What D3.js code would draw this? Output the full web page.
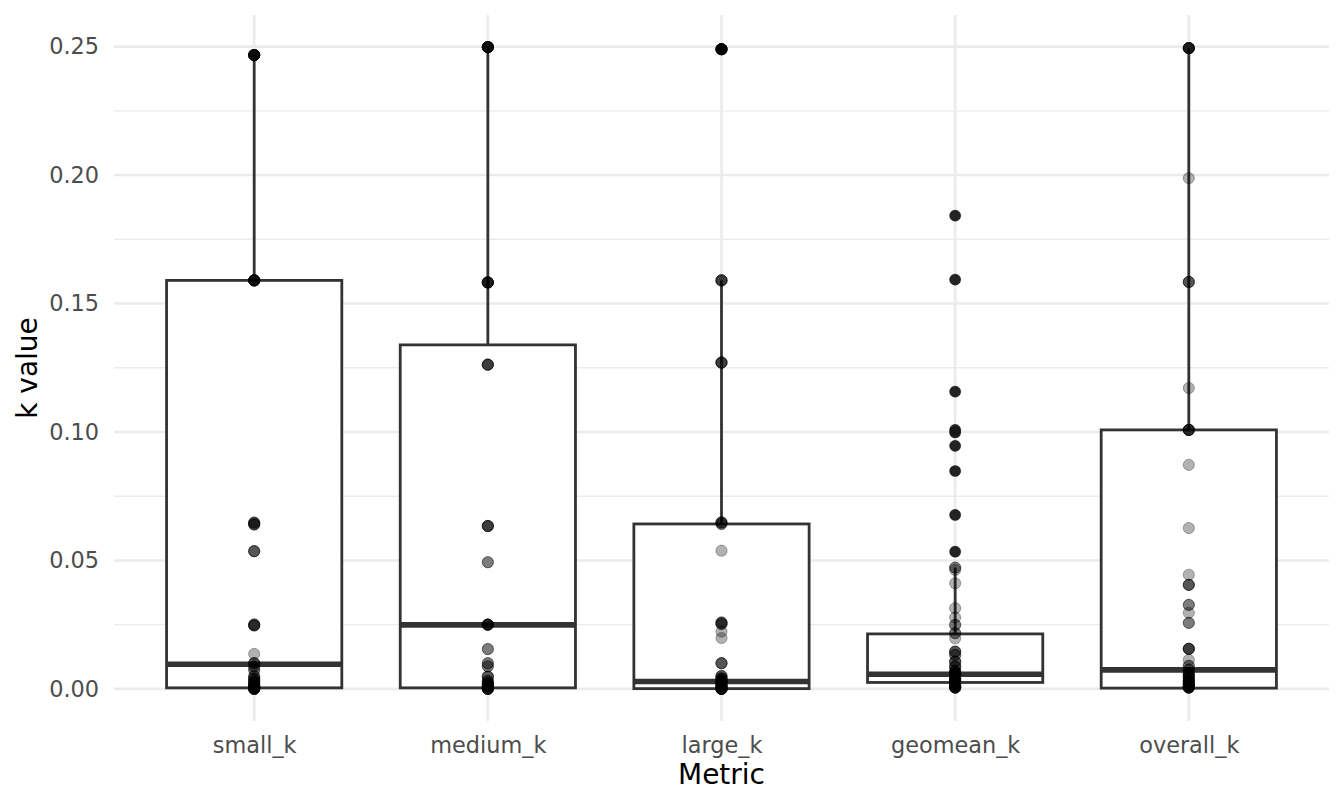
<!DOCTYPE html>
<html>
<head>
<meta charset="utf-8">
<script src="https://cdn.jsdelivr.net/npm/d3@7"></script>
<style>
  body { margin: 0; background: #fff; }
  svg text { font-family: "DejaVu Sans", sans-serif; }
</style>
</head>
<body>
<svg id="chart" width="1344" height="806"></svg>
<script>
// categories on the x axis
var categories = ["small_k", "medium_k", "large_k", "geomean_k", "overall_k"];

// box statistics
var boxLower    = [0.0004, 0.0004, 0.0001, 0.0025, 0.0003];
var boxMedian   = [0.0096, 0.0249, 0.0029, 0.0057, 0.0074];
var boxUpper    = [0.1590, 0.1339, 0.0642, 0.0214, 0.1008];
var whiskerLow  = [0.0000, 0.0000, 0.0000, 0.0000, 0.0000];
var whiskerHigh = [0.2467, 0.2498, 0.1590, 0.0472, 0.2494];

// observed points as [value, how many overlap there]
var smallK = [
  [0.2467, 8], [0.1590, 8], [0.0647, 3], [0.0640, 3], [0.0536, 3],
  [0.0251, 2], [0.0247, 3], [0.0136, 1], [0.0100, 3], [0.0088, 2],
  [0.0074, 2], [0.0050, 2], [0.0040, 3], [0.0030, 3], [0.0020, 4],
  [0.0010, 6], [0.0005, 6], [0.0000, 6]
];
var mediumK = [
  [0.2498, 8], [0.1582, 6], [0.1262, 4], [0.0634, 4], [0.0493, 2],
  [0.0250, 6], [0.0155, 2], [0.0100, 2], [0.0088, 2], [0.0048, 3],
  [0.0030, 3], [0.0020, 4], [0.0010, 5], [0.0000, 6]
];
var largeK = [
  [0.2490, 8], [0.1590, 4], [0.1270, 4], [0.0648, 3], [0.0642, 2],
  [0.0538, 1], [0.0258, 3], [0.0252, 2], [0.0223, 1], [0.0198, 1],
  [0.0100, 3], [0.0050, 3], [0.0040, 4], [0.0030, 5], [0.0020, 5],
  [0.0010, 6], [0.0000, 8]
];
var geomeanK = [
  [0.1842, 1], [0.1593, 1], [0.1157, 1], [0.1008, 1], [0.0998, 1],
  [0.0946, 1], [0.0848, 1], [0.0677, 1], [0.0534, 1], [0.0472, 2],
  [0.0463, 1], [0.0411, 1], [0.0314, 1], [0.0278, 1], [0.0249, 2],
  [0.0217, 2], [0.0197, 1], [0.0145, 3], [0.0132, 2], [0.0106, 3],
  [0.0087, 3], [0.0070, 3], [0.0060, 4], [0.0050, 4], [0.0040, 4],
  [0.0030, 5], [0.0020, 5], [0.0010, 5], [0.0005, 5]
];
var overallK = [
  [0.2494, 6], [0.1988, 1], [0.1584, 3], [0.1171, 1], [0.1008, 5],
  [0.0872, 1], [0.0626, 1], [0.0444, 1], [0.0405, 3], [0.0327, 2],
  [0.0296, 1], [0.0257, 2], [0.0156, 4], [0.0113, 1], [0.0090, 2],
  [0.0075, 2], [0.0060, 3], [0.0050, 3], [0.0040, 3], [0.0030, 4],
  [0.0020, 4], [0.0010, 5], [0.0005, 5]
];
var pointSets = [smallK, mediumK, largeK, geomeanK, overallK];

var yTicks = [0, 0.05, 0.10, 0.15, 0.20, 0.25];
var yMinor = [0.025, 0.075, 0.125, 0.175, 0.225];

var svg = d3.select("#chart");
var panelLeft = 114, panelRight = 1329, panelTop = 15, panelBottom = 721;
var dotR = 5.6;

var x = d3.scalePoint()
  .domain(categories)
  .range([panelLeft, panelRight])
  .padding(0.6);

var y = d3.scaleLinear()
  .domain([-0.0125, 0.2623])
  .range([panelBottom, panelTop]);

var boxW = x.step() * 0.75;

// grid
svg.append("g").selectAll("line")
  .data(yMinor).enter().append("line")
  .attr("x1", panelLeft).attr("x2", panelRight)
  .attr("y1", function(d) { return y(d); })
  .attr("y2", function(d) { return y(d); })
  .attr("stroke", "#ebebeb").attr("stroke-width", 1.4);

svg.append("g").selectAll("line")
  .data(yTicks).enter().append("line")
  .attr("x1", panelLeft).attr("x2", panelRight)
  .attr("y1", function(d) { return y(d); })
  .attr("y2", function(d) { return y(d); })
  .attr("stroke", "#ebebeb").attr("stroke-width", 2.6);

svg.append("g").selectAll("line")
  .data(categories).enter().append("line")
  .attr("x1", function(d) { return x(d); })
  .attr("x2", function(d) { return x(d); })
  .attr("y1", panelTop).attr("y2", panelBottom)
  .attr("stroke", "#ebebeb").attr("stroke-width", 2.6);

// axes
var yAxis = svg.append("g")
  .attr("transform", "translate(" + panelLeft + ",0)")
  .call(d3.axisLeft(y).tickValues(yTicks).tickFormat(d3.format(".2f")).tickSize(0).tickPadding(15));
var xAxis = svg.append("g")
  .attr("transform", "translate(0," + panelBottom + ")")
  .call(d3.axisBottom(x).tickSize(0).tickPadding(16));
[yAxis, xAxis].forEach(function(a) {
  a.select(".domain").remove();
  a.selectAll("text")
    .attr("fill", "#4d4d4d")
    .style("font-size", "22.4px")
    .style("font-family", "DejaVu Sans, sans-serif");
});

// boxes
var boxes = svg.append("g");
categories.forEach(function(c, i) {
  var cx = x(c);
  var g = boxes.append("g");
  g.append("line")
    .attr("x1", cx).attr("x2", cx)
    .attr("y1", y(boxUpper[i])).attr("y2", y(whiskerHigh[i]))
    .attr("stroke", "#333333").attr("stroke-width", 2.8);
  g.append("line")
    .attr("x1", cx).attr("x2", cx)
    .attr("y1", y(boxLower[i])).attr("y2", y(whiskerLow[i]))
    .attr("stroke", "#333333").attr("stroke-width", 2.8);
  g.append("rect")
    .attr("x", cx - boxW / 2)
    .attr("y", y(boxUpper[i]))
    .attr("width", boxW)
    .attr("height", y(boxLower[i]) - y(boxUpper[i]))
    .attr("fill", "#ffffff")
    .attr("stroke", "#333333").attr("stroke-width", 2.8);
  g.append("line")
    .attr("x1", cx - boxW / 2).attr("x2", cx + boxW / 2)
    .attr("y1", y(boxMedian[i])).attr("y2", y(boxMedian[i]))
    .attr("stroke", "#333333").attr("stroke-width", 5.6);

  // outliers drawn by the boxplot
  var outliers = pointSets[i].filter(function(p) {
    return p[0] > whiskerHigh[i] || p[0] < whiskerLow[i];
  });
  g.selectAll("circle")
    .data(outliers).enter().append("circle")
    .attr("cx", cx)
    .attr("cy", function(p) { return y(p[0]); })
    .attr("r", dotR)
    .attr("fill", "#333333");
});

// points, alpha 0.3
var pts = [];
pointSets.forEach(function(set, i) {
  set.forEach(function(p) {
    for (var k = 0; k < p[1]; k++) pts.push({ cat: categories[i], v: p[0] });
  });
});
svg.append("g").selectAll("circle")
  .data(pts).enter().append("circle")
  .attr("cx", function(d) { return x(d.cat); })
  .attr("cy", function(d) { return y(d.v); })
  .attr("r", dotR)
  .attr("fill", "#000").attr("fill-opacity", 0.3)
  .attr("stroke", "#000").attr("stroke-opacity", 0.3).attr("stroke-width", 1);

// titles
svg.append("text")
  .attr("x", (panelLeft + panelRight) / 2).attr("y", 784)
  .attr("text-anchor", "middle")
  .style("font-size", "28px")
  .attr("fill", "#000")
  .text("Metric");

svg.append("text")
  .attr("transform", "translate(37," + (panelTop + panelBottom) / 2 + ") rotate(-90)")
  .attr("text-anchor", "middle")
  .style("font-size", "28px")
  .attr("fill", "#000")
  .text("k value");
</script>
</body>
</html>
